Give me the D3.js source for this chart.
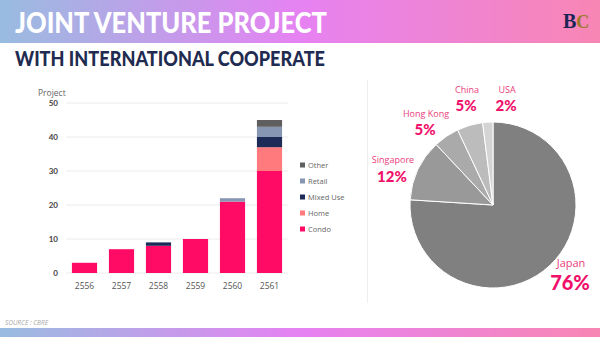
<!DOCTYPE html>
<html><head><meta charset="utf-8">
<script src="https://cdn.jsdelivr.net/npm/d3@7"></script>
<style>html,body{margin:0;padding:0;background:#fff;overflow:hidden}svg{display:block}</style>
</head><body>
<script>
const years = ["2556","2557","2558","2559","2560","2561"];
const seriesNames = ["Condo","Home","Mixed Use","Retail","Other"];
const condo    = [3, 7, 8, 10, 21, 30];
const home     = [0, 0, 0, 0, 0, 7];
const mixedUse = [0, 0, 1, 0, 0, 3];
const retail   = [0, 0, 0, 0, 1, 3];
const other    = [0, 0, 0, 0, 0, 2];
const yTicks = [0, 10, 20, 30, 40, 50];
const countries = ["Japan","Singapore","Hong Kong","China","USA"];
const shares = [76, 12, 5, 5, 2];

const W = 600, H = 337;
const svg = d3.select("body").append("svg").attr("width", W).attr("height", H);
const defs = svg.append("defs");
const g1 = defs.append("linearGradient").attr("id","hdr").attr("x1","0").attr("x2","1");
g1.append("stop").attr("offset","0").attr("stop-color","#98bce0");
g1.append("stop").attr("offset","0.5").attr("stop-color","#e682f2");
g1.append("stop").attr("offset","1").attr("stop-color","#f886b4");

svg.append("rect").attr("x",0).attr("y",0).attr("width",W).attr("height",43).attr("fill","url(#hdr)");
svg.append("rect").attr("x",0).attr("y",328).attr("width",W).attr("height",9).attr("fill","url(#hdr)");

svg.append("text").attr("x",15).attr("y",33).text("JOINT VENTURE PROJECT")
  .attr("font-family","Lato, 'Open Sans', sans-serif").attr("font-weight","900").attr("font-size",28)
  .attr("fill","#fff").attr("textLength",312).attr("lengthAdjust","spacingAndGlyphs");
svg.append("text").attr("x",15).attr("y",66).text("WITH INTERNATIONAL COOPERATE")
  .attr("font-family","Lato, 'Open Sans', sans-serif").attr("font-weight","900").attr("font-size",21)
  .attr("fill","#1f2b50").attr("textLength",310).attr("lengthAdjust","spacingAndGlyphs");

// logo
const logo = svg.append("text").attr("x",563).attr("y",28).attr("font-family","'Liberation Serif', serif")
  .attr("font-weight","bold").attr("font-size",20);
logo.append("tspan").text("B").attr("fill","#1c2457");
logo.append("tspan").text("C").attr("fill","#9a7a2a").attr("font-size",18);

svg.append("text").attr("x",5).attr("y",325).text("SOURCE : CBRE")
  .attr("font-family","'Open Sans', sans-serif").attr("font-style","italic").attr("font-size",6.5).attr("fill","#aaa");

// bar chart
const x = d3.scaleBand().domain(years).range([66, 288]).paddingInner(0.32).paddingOuter(0.16);
const y = d3.scaleLinear().domain([0, 50]).range([273, 103]);
const colors = {"Condo":"#ff0a64","Home":"#ff7a7c","Mixed Use":"#1c2b57","Retail":"#8797b3","Other":"#5f5f5f"};
const seriesVals = {"Condo":condo,"Home":home,"Mixed Use":mixedUse,"Retail":retail,"Other":other};

const gridG = svg.append("g");
gridG.selectAll("line").data(yTicks).join("line")
  .attr("x1",66).attr("x2",288).attr("y1",d=>y(d)).attr("y2",d=>y(d))
  .attr("stroke","#ececec").attr("stroke-width",1);

const yAxis = svg.append("g").attr("transform","translate(58,0)")
  .call(d3.axisLeft(y).tickValues(yTicks).tickSize(0).tickPadding(0));
yAxis.select(".domain").remove();
yAxis.selectAll("text").attr("font-family","Lato, 'Open Sans', sans-serif").attr("font-weight","bold")
  .attr("font-size",8).attr("fill","#444");

const xAxis = svg.append("g").attr("transform","translate(0,283)")
  .call(d3.axisBottom(x).tickSize(0).tickPadding(0));
xAxis.select(".domain").remove();
xAxis.selectAll("text").attr("font-family","'Open Sans', sans-serif").attr("font-size",8.5).attr("fill","#555");

svg.append("text").attr("x",38).attr("y",96).text("Project")
  .attr("font-family","'Open Sans', sans-serif").attr("font-size",8.5).attr("fill","#666");

const table = years.map((yr,i)=>{const o={year:yr}; seriesNames.forEach(s=>o[s]=seriesVals[s][i]); return o;});
const stack = d3.stack().keys(seriesNames)(table);
svg.append("g").selectAll("g").data(stack).join("g").attr("fill",d=>colors[d.key])
  .selectAll("rect").data(d=>d).join("rect")
  .attr("x",d=>x(d.data.year)).attr("width",x.bandwidth())
  .attr("y",d=>y(d[1])).attr("height",d=>y(d[0])-y(d[1]));

const legendOrder = ["Other","Retail","Mixed Use","Home","Condo"];
const lg = svg.append("g").selectAll("g").data(legendOrder).join("g")
  .attr("transform",(d,i)=>`translate(300,${165+i*16})`);
lg.append("rect").attr("x",0).attr("y",-2.5).attr("width",5).attr("height",5).attr("fill",d=>colors[d]);
lg.append("text").attr("x",8).attr("y",3).text(d=>d)
  .attr("font-family","'Open Sans', sans-serif").attr("font-size",7.5).attr("fill","#666");

// divider
svg.append("line").attr("x1",367.5).attr("x2",367.5).attr("y1",80).attr("y2",303).attr("stroke","#eee");

// pie
const cx = 493, cy = 205, r = 83;
const pieColors = ["#808080","#999999","#aaaaaa","#bcbcbc","#d4d4d4"];
const pie = d3.pie().sort(null).value(d=>d.v)(countries.map((c,i)=>({c, v:shares[i], i})));
const arc = d3.arc().innerRadius(0).outerRadius(r);
svg.append("g").attr("transform",`translate(${cx},${cy})`).selectAll("path").data(pie).join("path")
  .attr("d",arc).attr("fill",d=>pieColors[d.data.i]).attr("stroke","#fff").attr("stroke-width",1);

const labelPos = [[571,267,284,20],[393,163,178,15],[426,117,131,15],[467,93,107,15],[507,93,107,15]];
countries.forEach((c,i)=>{
  const p = labelPos[i];
  svg.append("text").attr("x",p[0]).attr("y",p[1]).attr("text-anchor","middle").text(c)
    .attr("font-family","'Open Sans', sans-serif").attr("font-size", i===0?11:9).attr("fill","#e8407a");
  svg.append("text").attr("x",p[0]-1).attr("y",p[2]+ (i===0?6:4)).attr("text-anchor","middle").text(shares[i]+"%")
    .attr("font-family","Lato, 'Open Sans', sans-serif").attr("font-weight","900").attr("font-size",p[3]).attr("fill","#f0106a");
});
</script>
</body></html>
